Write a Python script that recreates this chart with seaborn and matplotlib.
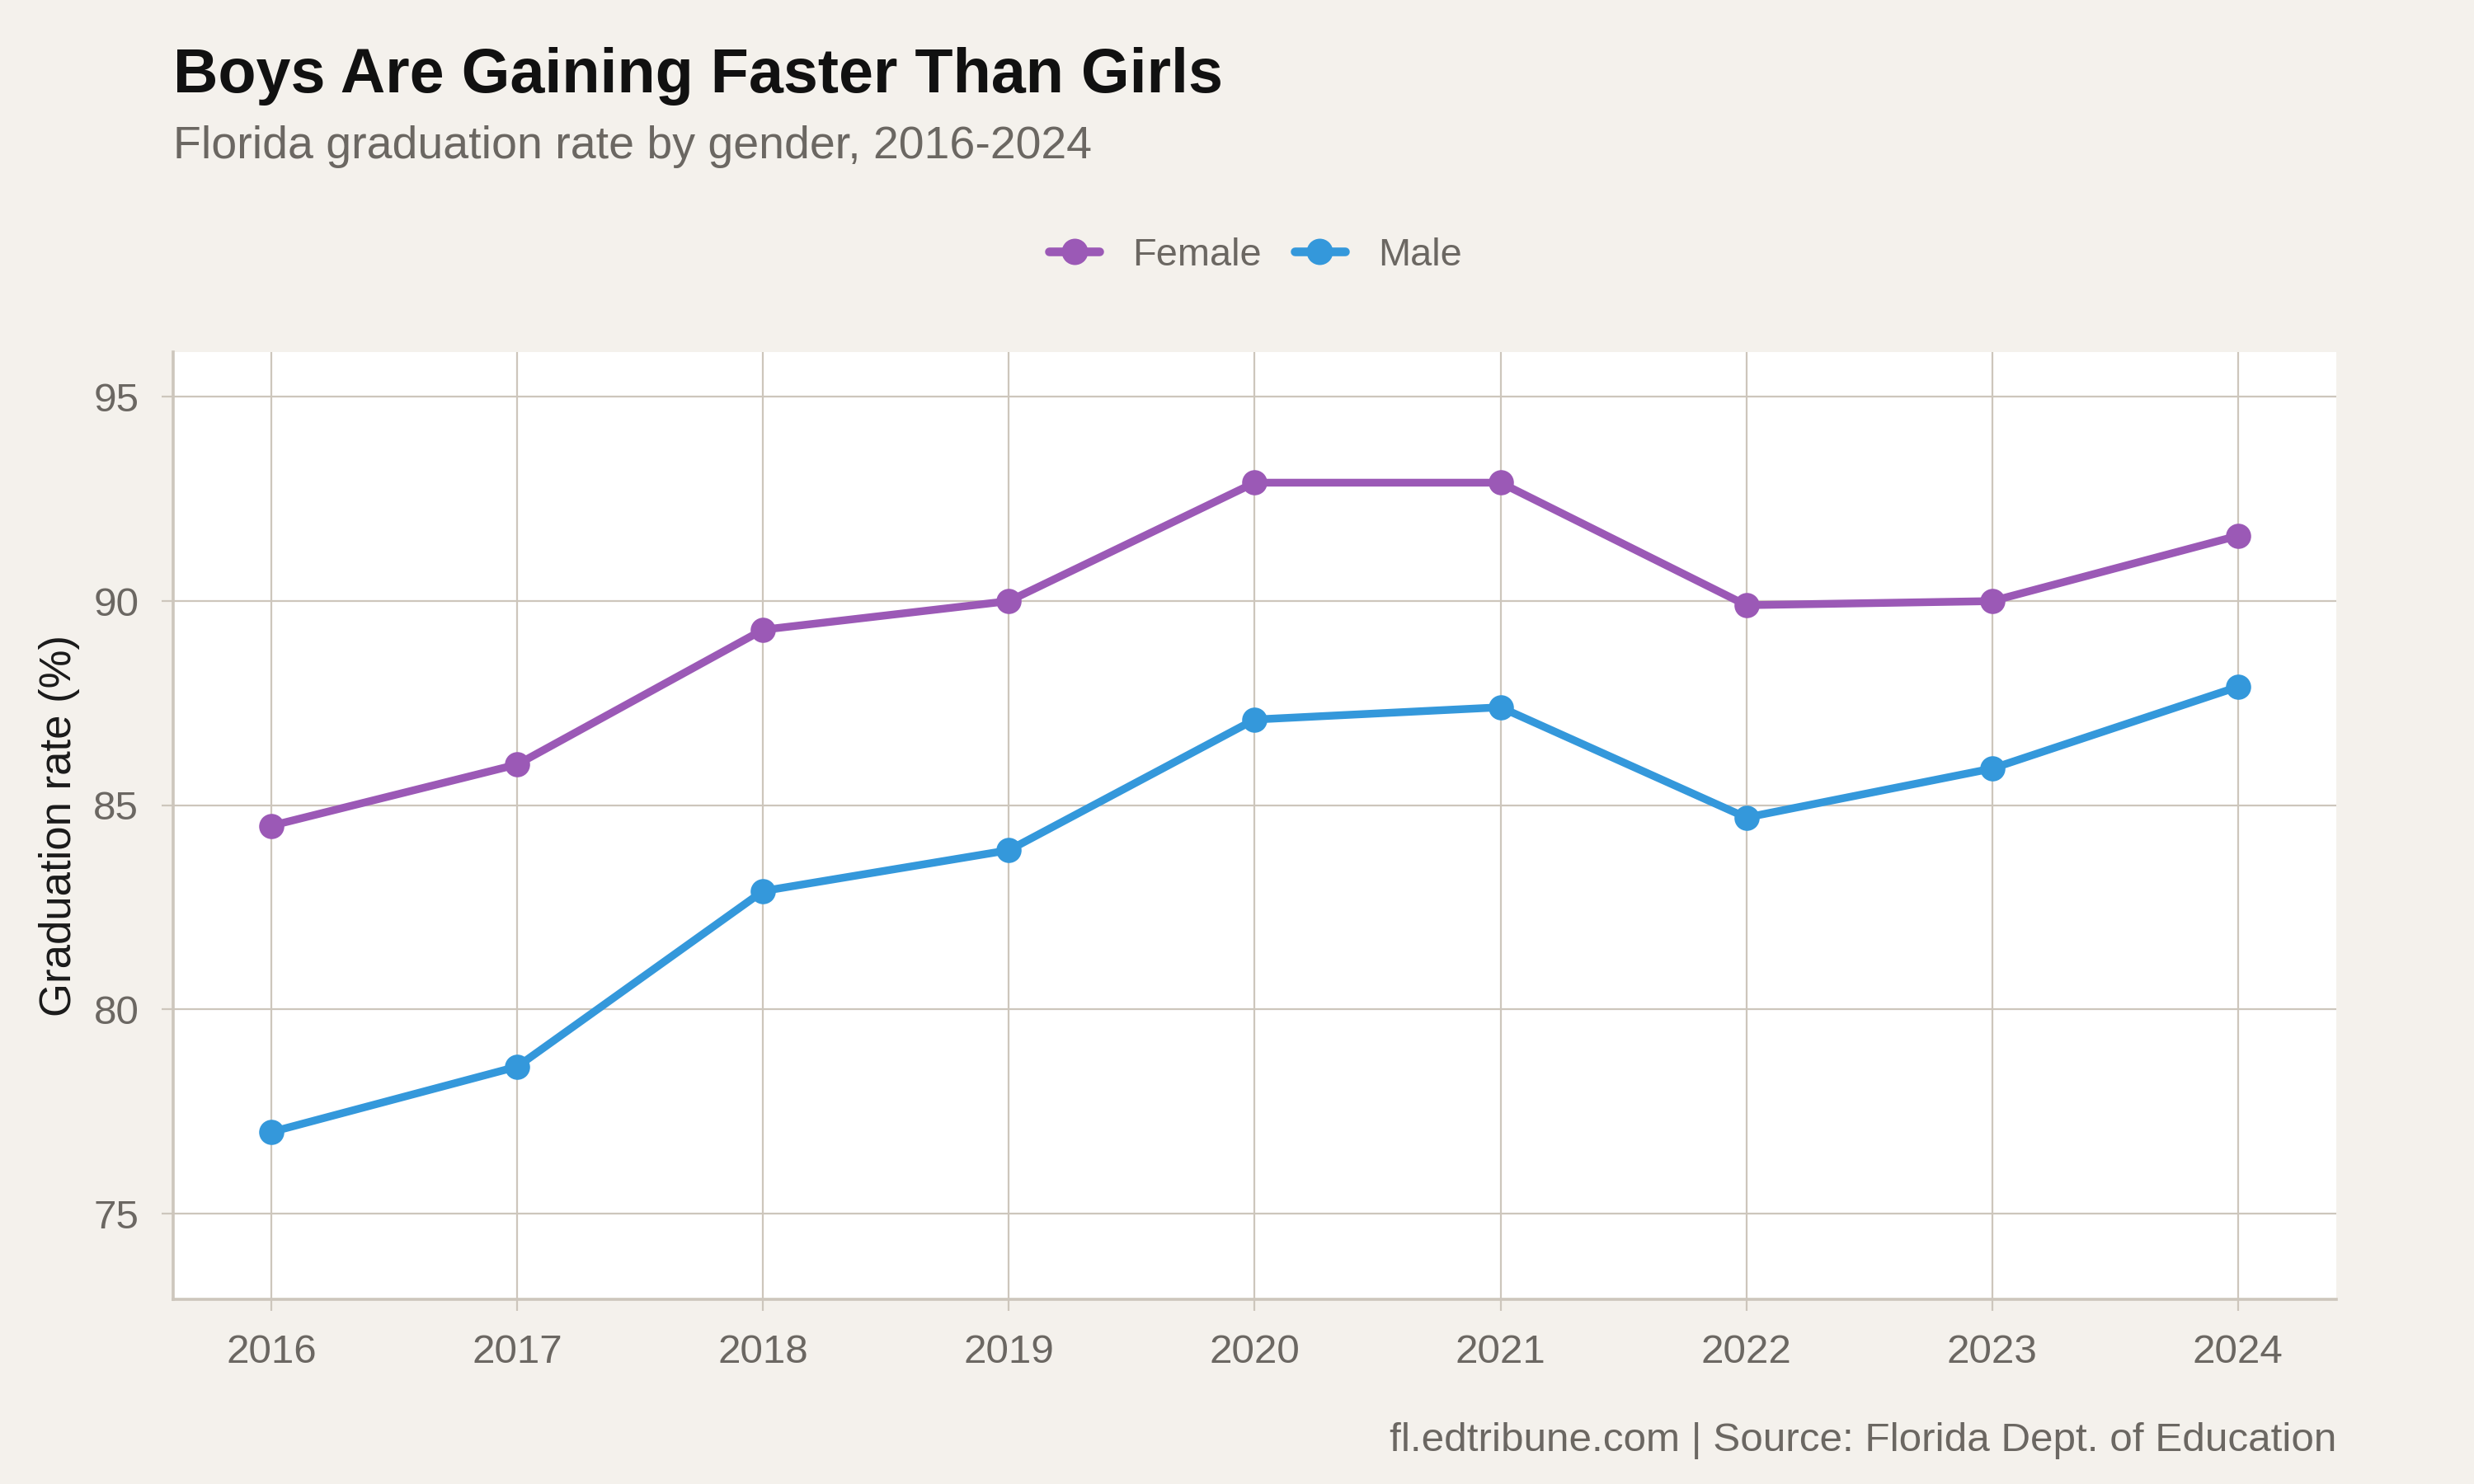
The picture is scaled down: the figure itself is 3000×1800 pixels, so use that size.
import matplotlib
matplotlib.use("Agg")
import matplotlib.pyplot as plt
import numpy as np
import pandas as pd
import seaborn as sns

# data
years = [2016, 2017, 2018, 2019, 2020, 2021, 2022, 2023, 2024]
female = [84.5, 86.0, 89.3, 90.0, 92.9, 92.9, 89.9, 90.0, 91.6]
male = [77.0, 78.6, 82.9, 83.9, 87.1, 87.4, 84.7, 85.9, 87.9]
genders = ["Female", "Male"]
colors = ["#9B59B6", "#3498DB"]

df = pd.DataFrame({
    "year": years * 2,
    "rate": female + male,
    "gender": ["Female"] * len(years) + ["Male"] * len(years),
})

bg = "#F4F1EC"
grid_c = "#CDC6BC"
gray = "#6B6762"

sns.set_theme(style="whitegrid")
plt.rcParams["font.family"] = ["Liberation Sans", "DejaVu Sans"]

fig = plt.figure(figsize=(15, 9), dpi=200, facecolor=bg)
ax = fig.add_axes([0.07, 0.1244, 0.8743, 0.6384])
ax.set_facecolor("white")

sns.lineplot(data=df, x="year", y="rate", hue="gender", hue_order=genders,
             palette=colors, marker="o", markersize=11, markeredgewidth=0,
             linewidth=3.4, ax=ax)

ax.set_xlim(2015.6, 2024.4)
ax.set_ylim(72.9, 96.1)
ax.set_xticks(years)
ax.set_xticklabels([str(y) for y in years])
ax.set_yticks([75, 80, 85, 90, 95])

ax.grid(True, color=grid_c, linewidth=0.8)
for s in ["top", "right"]:
    ax.spines[s].set_visible(False)
for s in ["left", "bottom"]:
    ax.spines[s].set_color(grid_c)
    ax.spines[s].set_linewidth(1.3)

ax.tick_params(axis="both", colors=grid_c, labelcolor=gray, labelsize=17.8,
               length=5, width=0.8, pad=10, left=True, bottom=True)
ax.set_xlabel("")
ax.set_ylabel("Graduation rate (%)", fontsize=19, color="#1A1A1A", labelpad=6)

handles, labels = ax.get_legend_handles_labels()
if ax.legend_:
    ax.legend_.remove()
leg = fig.legend(handles, labels, loc="center", bbox_to_anchor=(0.5075, 0.828),
                 ncol=2, frameon=False, fontsize=16.9, handlelength=1.3,
                 handletextpad=0.85, columnspacing=0.85, labelcolor=gray)
for h in leg.legend_handles:
    h.set_linewidth(3.8)
    h.set_markersize(11.5)

fig.text(0.07, 0.9378, "Boys Are Gaining Faster Than Girls", fontsize=27.2,
         fontweight="bold", color="#111111", va="baseline", ha="left")
fig.text(0.07, 0.8933, "Florida graduation rate by gender, 2016-2024",
         fontsize=20, color=gray, va="baseline", ha="left")
fig.text(0.9443, 1 - 1760 / 1800, "fl.edtribune.com | Source: Florida Dept. of Education",
         fontsize=17.8, color=gray, va="baseline", ha="right")

plt.savefig("out.png", dpi=200, facecolor=bg)
